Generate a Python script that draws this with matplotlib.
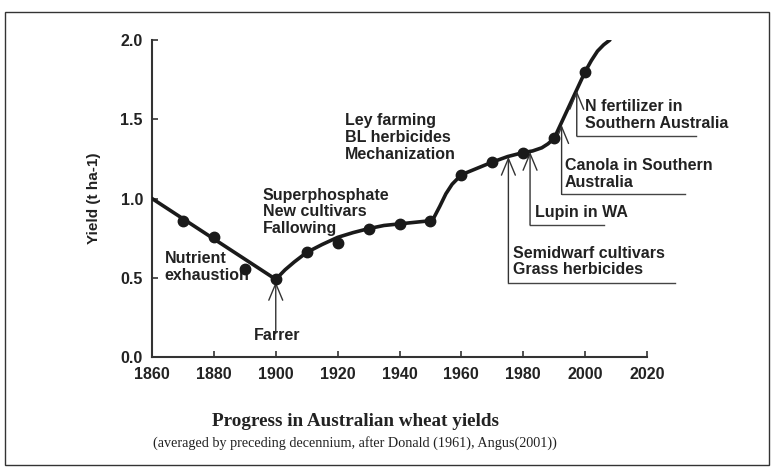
import matplotlib.pyplot as plt
from matplotlib.patches import Rectangle

plt.rcParams["font.family"] = ["Liberation Sans", "DejaVu Sans"]

# decade averages (dots)
years = [1870, 1880, 1890, 1900, 1910, 1920, 1930, 1940, 1950,
         1960, 1970, 1980, 1990, 2000]
yields = [0.86, 0.76, 0.555, 0.49, 0.66, 0.72, 0.805, 0.84, 0.86,
          1.15, 1.23, 1.29, 1.38, 1.80]

# hand-drawn trend line
trend_years = [1860, 1900, 1903, 1906, 1910, 1915, 1920, 1925, 1930, 1935,
               1940, 1945, 1950, 1951, 1953, 1955, 1957, 1960, 1965, 1970,
               1975, 1980, 1983, 1986, 1988, 1990, 1995, 2000, 2002, 2004,
               2006, 2008]
trend_yield = [1.00, 0.49, 0.55, 0.60, 0.66, 0.71, 0.755, 0.785, 0.81, 0.83,
               0.84, 0.85, 0.86, 0.875, 0.95, 1.03, 1.09, 1.15, 1.19, 1.23,
               1.265, 1.29, 1.30, 1.32, 1.345, 1.38, 1.59, 1.80, 1.87, 1.93,
               1.97, 2.00]

# events: (label, arrow x, arrow tip y, line bottom y, leader end x, text x, text y)
events = [
    ("Semidwarf cultivars\nGrass herbicides", 1975.2, 1.264, 0.47, 2028.9, 1976.6, 0.603),
    ("Lupin in WA", 1982.2, 1.295, 0.833, 2006.1, 1983.8, 0.91),
    ("Canola in Southern\nAustralia", 1992.4, 1.464, 1.026, 2032.3, 1993.5, 1.155),
    ("N fertilizer in\nSouthern Australia", 1997.3, 1.68, 1.394, 2035.8, 2000.0, 1.527),
]

fig = plt.figure(figsize=(7.74, 4.72), dpi=100)
ax = fig.add_axes([0.1964, 0.2436, 0.6395, 0.6716])

ax.plot(trend_years, trend_yield, color="#1a1a1a", lw=2.6, solid_capstyle="round",
        solid_joinstyle="round", zorder=3)
ax.plot(years, yields, "o", color="#1a1a1a", ms=7.5, zorder=4)

ax.set_xlim(1860, 2020)
ax.set_ylim(0, 2.0)
ax.set_xticks(range(1860, 2021, 20))
ax.set_yticks([0.0, 0.5, 1.0, 1.5, 2.0])
ax.set_yticklabels(["0.0", "0.5", "1.0", "1.5", "2.0"])
for s in ["top", "right"]:
    ax.spines[s].set_visible(False)
for s in ["left", "bottom"]:
    ax.spines[s].set_color("#333333")
    ax.spines[s].set_linewidth(1.5)
ax.tick_params(axis="both", direction="in", length=4, width=1.2, color="#333333",
               labelsize=11.5, labelcolor="#222222")
ax.tick_params(axis="x", pad=7.5)
ax.tick_params(axis="y", pad=6.5)
for lab in ax.get_xticklabels() + ax.get_yticklabels():
    lab.set_fontweight("bold")
ax.set_ylabel("Yield (t ha-1)", fontsize=11, fontweight="bold", color="#222222",
              labelpad=14)

txt = dict(fontsize=11.5, fontweight="bold", color="#222222", linespacing=1.15)
ax.text(1864, 0.57, "Nutrient\nexhaustion", va="center", ha="left", **txt)
ax.text(1895.8, 0.915, "Superphosphate\nNew cultivars\nFallowing", va="center", ha="left", **txt)
ax.text(1922.4, 1.385, "Ley farming\nBL herbicides\nMechanization", va="center", ha="left", **txt)

arrow = dict(arrowstyle="->,head_length=0.6,head_width=0.25", lw=1.0, color="#333333",
             shrinkA=0, shrinkB=0, mutation_scale=20)

# Farrer
ax.annotate("", xy=(1900, 0.475), xytext=(1900, 0.15), arrowprops=arrow)
ax.text(1900.5, 0.134, "Farrer", va="center", ha="center", **txt)

for label, ax_x, tip_y, bot_y, end_x, tx, ty in events:
    ax.annotate("", xy=(ax_x, tip_y), xytext=(ax_x, bot_y), arrowprops=arrow,
                annotation_clip=False)
    ax.plot([ax_x, end_x], [bot_y, bot_y], color="#444444", lw=1.0, clip_on=False)
    ax.text(tx, ty, label, va="center", ha="left", **txt)

fig.text(0.459, 1 - 422 / 472, "Progress in Australian wheat yields", ha="center",
         va="center", fontsize=13.8, fontweight="bold", family="Liberation Serif",
         color="#222222")
fig.text(0.459, 1 - 443 / 472,
         "(averaged by preceding decennium, after Donald (1961), Angus(2001))",
         ha="center", va="center", fontsize=10.2, family="Liberation Serif",
         color="#222222")

fig.patches.append(Rectangle((5 / 774, 1 - 465 / 472), 764 / 774, 453 / 472,
                             transform=fig.transFigure, fill=False,
                             edgecolor="#333333", lw=1.0))

fig.savefig("out.png", dpi=100)
